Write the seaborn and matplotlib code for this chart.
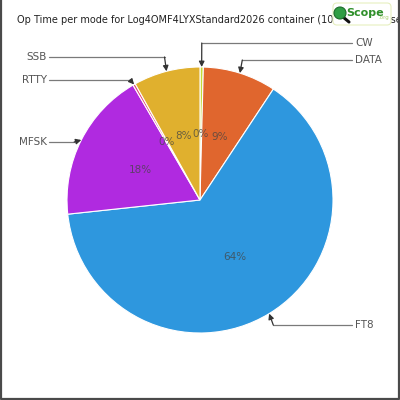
import numpy as np
import matplotlib
matplotlib.use("Agg")
import matplotlib.pyplot as plt
import seaborn as sns
from matplotlib.patches import Circle, FancyBboxPatch

# Data (share of operating time per mode)
modes = ["CW", "DATA", "FT8", "MFSK", "RTTY", "SSB"]
shares = [0.4, 8.9, 64.0, 18.3, 0.3, 8.1]
colours = ["#c4da36", "#e0662e", "#2e97de", "#b02ae0", "#e04b7a", "#e0b02e"]
title = "Op Time per mode for Log4OMF4LYXStandard2026 container (10 modes in use)"

# label rows (y in axes units, 0 = bottom) and side of the chart
label_y = [357, 340, 75, 258, 320, 343]
label_side = ["right", "right", "right", "left", "left", "left"]

sns.set_theme(style="white")
plt.rcParams["font.family"] = ["Liberation Sans Narrow", "DejaVu Sans"]

fig = plt.figure(figsize=(4, 4), dpi=100)
ax = fig.add_axes([0, 0, 1, 1])

cx, cy, r = 200, 200, 133
wedges, texts, autotexts = ax.pie(
    shares, colors=colours, startangle=90, counterclock=False,
    center=(cx, cy), radius=r, autopct="%.0f%%", pctdistance=0.5,
    wedgeprops=dict(edgecolor="white", linewidth=0.8),
    textprops=dict(fontsize=7.5, color="#444444", alpha=0.75),
)
ax.set_xlim(0, 400)
ax.set_ylim(0, 400)
ax.set_aspect("equal")
ax.axis("off")

# callout labels with elbow arrows pointing at each slice's outer edge
total = sum(shares)
cum = np.cumsum(shares) - np.array(shares) / 2
for name, mid, ly, side in zip(modes, cum, label_y, label_side):
    theta = np.deg2rad(90 - 360 * mid / total)
    tip = (cx + r * np.cos(theta), cy + r * np.sin(theta))
    elbow_x = cx + 1.06 * r * np.cos(theta)
    if side == "right":
        tx, ha, line_x = 355, "left", 352
    else:
        tx, ha, line_x = 47, "right", 49
    ax.plot([line_x, elbow_x], [ly, ly], color="#7a7a7a", lw=0.9)
    ax.annotate("", xy=tip, xytext=(elbow_x, ly),
                arrowprops=dict(arrowstyle="-|>", color="#333333", lw=0.9,
                                mutation_scale=8, shrinkA=0, shrinkB=0))
    ax.text(tx, ly, name, ha=ha, va="center", fontsize=7.5, color="#555555")

ax.text(17, 380, title, ha="left", va="center", fontsize=7, color="#222222")

# logo badge covering part of the title
ax.add_patch(FancyBboxPatch((333, 375), 58, 22, boxstyle="round,pad=0,rounding_size=4",
                            facecolor="white", edgecolor="#e6efc0", lw=0.8, zorder=5))
ax.plot([343, 349], [383, 378], color="#111111", lw=2.2, zorder=6, solid_capstyle="round")
ax.add_patch(Circle((340, 387), 6, facecolor="#2f9e44", edgecolor="#1d6b2a", lw=0.8, zorder=6))
ax.text(346, 387, "Scope", ha="left", va="center", fontsize=8, color="#2f8f2a",
        fontweight="bold", zorder=7)
ax.text(378, 382, ".org", ha="left", va="center", fontsize=4, color="#a6cf70", zorder=7)

# frame on the left, right and bottom of the picture
ax.plot([1, 1, 398.5, 398.5], [400, 1, 1, 400], color="#4a4a4a", lw=1.6,
        zorder=8, clip_on=False)

fig.savefig("out.png", dpi=100)
